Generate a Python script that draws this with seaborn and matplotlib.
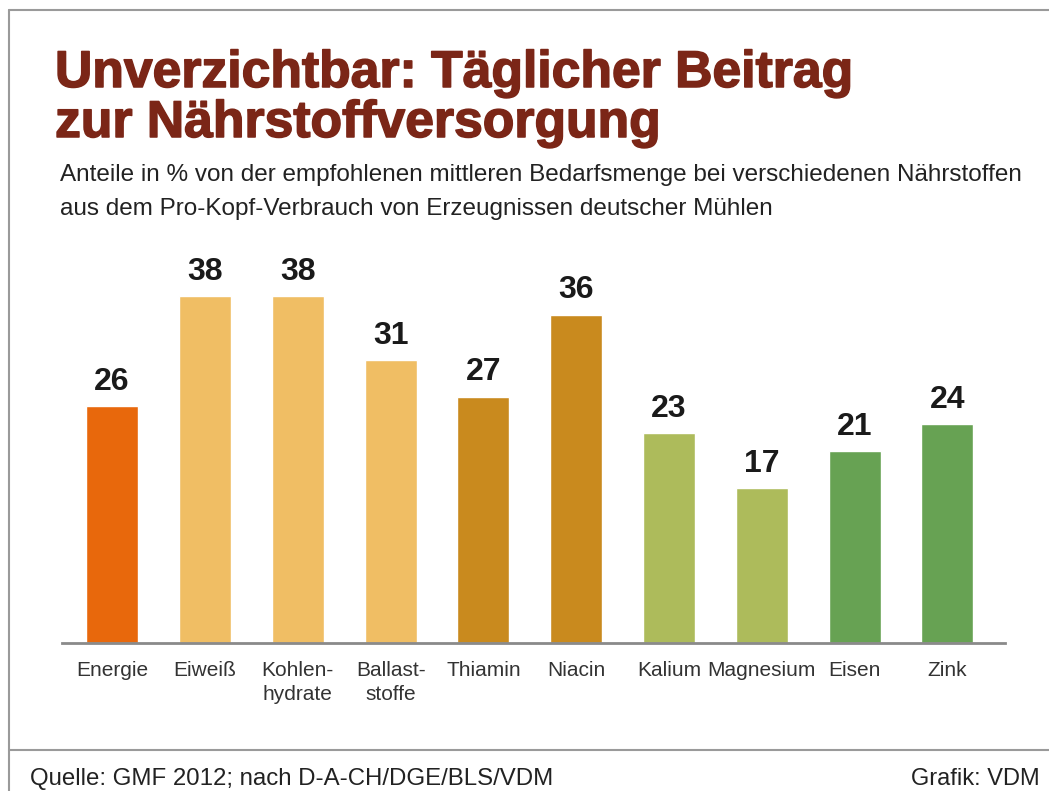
import matplotlib
matplotlib.use("Agg")
import matplotlib.pyplot as plt
import matplotlib.patheffects as pe
import seaborn as sns
import pandas as pd
from matplotlib.lines import Line2D

categories = ["Energie", "Eiweiß", "Kohlen-\nhydrate", "Ballast-\nstoffe", "Thiamin",
              "Niacin", "Kalium", "Magnesium", "Eisen", "Zink"]
values = [26, 38, 38, 31, 27, 36, 23, 17, 21, 24]
bar_colors = ["#E8680C", "#F0BE64", "#F0BE64", "#F0BE64", "#C98A1E",
              "#C98A1E", "#ADBB5B", "#ADBB5B", "#67A253", "#67A253"]

title_lines = ["Unverzichtbar: Täglicher Beitrag", "zur Nährstoffversorgung"]
subtitle_lines = ["Anteile in % von der empfohlenen mittleren Bedarfsmenge bei verschiedenen Nährstoffen",
                  "aus dem Pro-Kopf-Verbrauch von Erzeugnissen deutscher Mühlen"]
source = "Quelle: GMF 2012; nach D-A-CH/DGE/BLS/VDM"
credit = "Grafik: VDM"

sns.set_theme(style="white")
plt.rcParams["font.family"] = ["Liberation Sans", "DejaVu Sans"]

W, H = 1049, 791
fig = plt.figure(figsize=(W / 100, H / 100), dpi=100)
fig.patch.set_facecolor("white")

ax = fig.add_axes([62 / W, 1 - 643 / H, (1005 - 62) / W, (643 - 278) / H])
df = pd.DataFrame({"cat": categories, "val": values})
sns.barplot(data=df, x="cat", y="val", hue="cat", palette=bar_colors,
            width=0.56, legend=False, saturation=1, ax=ax)

ax.set_xlim(-0.54, 9.62)
ax.set_ylim(0, 40)
for s in ["top", "right", "left"]:
    ax.spines[s].set_visible(False)
ax.spines["bottom"].set_color("#8a8a8a")
ax.spines["bottom"].set_linewidth(2)
ax.set_yticks([])
ax.set_xlabel("")
ax.set_ylabel("")
ax.tick_params(axis="x", length=0, pad=13, labelsize=15, labelcolor="#333333")
for lbl in ax.get_xticklabels():
    lbl.set_linespacing(1.3)

for i, v in enumerate(values):
    ax.text(i, v + 1.0, str(v), ha="center", va="bottom", fontsize=23,
            fontweight="bold", color="#1a1a1a")

# heavier title, close to a black-weight face
thick = [pe.withStroke(linewidth=1.1, foreground="#7B2617")]
for k, line in enumerate(title_lines):
    fig.text(55 / W, 1 - (87 + 50 * k) / H, line, ha="left", va="baseline", fontsize=37.2,
             fontweight="bold", color="#7B2617", path_effects=thick)
for k, line in enumerate(subtitle_lines):
    fig.text(60 / W, 1 - (181 + 34 * k) / H, line, ha="left", va="baseline",
             fontsize=17.5, color="#222222")

fig.text(30 / W, 1 - 785 / H, source, ha="left", va="baseline", fontsize=17.3, color="#222222")
fig.text(1040 / W, 1 - 785 / H, credit, ha="right", va="baseline", fontsize=17, color="#222222")

frame = "#9a9a9a"
fig.add_artist(Line2D([9 / W, 1], [1 - 10 / H, 1 - 10 / H], color=frame, lw=1.5))
fig.add_artist(Line2D([9 / W, 9 / W], [0, 1 - 10 / H], color=frame, lw=1.5))
fig.add_artist(Line2D([9 / W, 1], [1 - 750 / H, 1 - 750 / H], color=frame, lw=1.5))

fig.savefig("out.png", dpi=100)
